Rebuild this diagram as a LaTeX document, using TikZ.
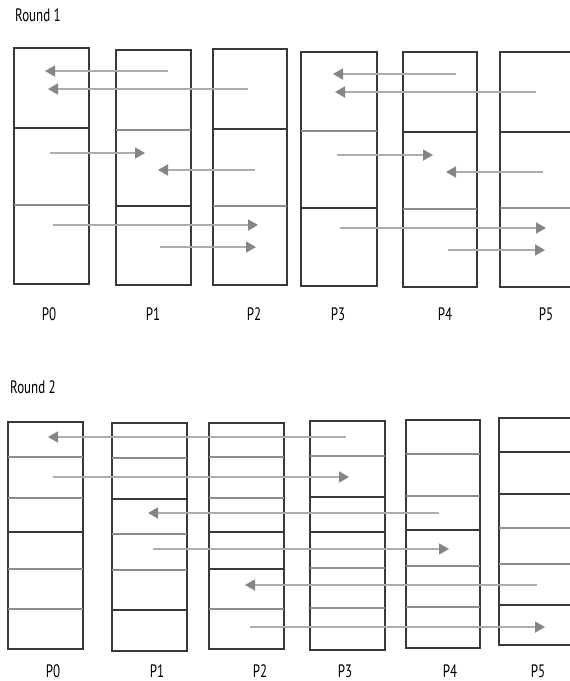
\documentclass[tikz,border=0pt]{standalone}
\usepackage{fontspec}
\setmainfont{PT Sans}[FakeStretch=0.72]
\usetikzlibrary{arrows.meta}
\definecolor{boxline}{gray}{0.22}
\definecolor{divgray}{gray}{0.55}
\definecolor{msgline}{gray}{0.68}
\definecolor{msgtip}{gray}{0.52}
\tikzset{
  boxframe/.style={draw=boxline, line width=1.2pt},
  divdark/.style={draw=boxline, line width=1.2pt},
  divlight/.style={draw=divgray, line width=1.6pt},
  msg/.style={draw=msgline, line width=1.8pt, -{Triangle[length=10pt,width=11pt,color=msgtip]}},
  plabel/.style={font=\fontsize{18}{18}\selectfont, inner sep=0pt},
  rlabel/.style={font=\fontsize{18}{18}\selectfont, inner sep=0pt, anchor=west},
}
\begin{document}
\begin{tikzpicture}[x=1pt,y=-1pt]
\useasboundingbox (0,0) rectangle (570,681);
\clip (0,0) rectangle (570,681);

% ---------------- Round 1 ----------------
\node[rlabel] (round1) at (15,15) {Round 1};

% P0
\draw[boxframe] (14,48) rectangle (89,284);
\draw[divdark] (14,128) -- (89,128);
\draw[divlight] (14,205) -- (89,205);
% P1
\draw[boxframe] (116,50) rectangle (191,285);
\draw[divlight] (116,130) -- (191,130);
\draw[divdark] (116,206) -- (191,206);
% P2
\draw[boxframe] (213,49) rectangle (287,285);
\draw[divdark] (213,129) -- (287,129);
\draw[divlight] (213,206) -- (287,206);
% P3
\draw[boxframe] (301,52) rectangle (377,286);
\draw[divlight] (301,131) -- (377,131);
\draw[divdark] (301,208) -- (377,208);
% P4
\draw[boxframe] (403,52) rectangle (477,287);
\draw[divdark] (403,132) -- (477,132);
\draw[divlight] (403,209) -- (477,209);
% P5
\draw[boxframe] (500,52) rectangle (590,287);
\draw[divdark] (500,132) -- (590,132);
\draw[divlight] (500,208) -- (590,208);

\node[plabel] (r1p0) at (49,314) {P0};
\node[plabel] (r1p1) at (153,314) {P1};
\node[plabel] (r1p2) at (254,314) {P2};
\node[plabel] (r1p3) at (338,314) {P3};
\node[plabel] (r1p4) at (445,314) {P4};
\node[plabel] (r1p5) at (546,314) {P5};

% Round 1 messages
\coordinate (a1s) at (168,71);  \coordinate (a1e) at (45,71);
\coordinate (a2s) at (248,89);  \coordinate (a2e) at (48,89);
\coordinate (a3s) at (50,153);  \coordinate (a3e) at (145,153);
\coordinate (a4s) at (255,170); \coordinate (a4e) at (158,170);
\coordinate (a5s) at (53,225);  \coordinate (a5e) at (258,225);
\coordinate (a6s) at (160,247); \coordinate (a6e) at (256,247);
\coordinate (b1s) at (456,74);  \coordinate (b1e) at (333,74);
\coordinate (b2s) at (536,92);  \coordinate (b2e) at (335,92);
\coordinate (b3s) at (337,155); \coordinate (b3e) at (433,155);
\coordinate (b4s) at (543,172); \coordinate (b4e) at (446,172);
\coordinate (b5s) at (340,228); \coordinate (b5e) at (546,228);
\coordinate (b6s) at (448,250); \coordinate (b6e) at (545,250);
\foreach \p in {a1,a2,a3,a4,a5,a6,b1,b2,b3,b4,b5,b6}
  \draw[msg] (\p s) -- (\p e);

% ---------------- Round 2 ----------------
\node[rlabel] (round2) at (10,387) {Round 2};

% P0
\draw[boxframe] (8,422) rectangle (83,649);
\draw[divlight] (8,457) -- (83,457);
\draw[divlight] (8,498) -- (83,498);
\draw[divdark] (8,532) -- (83,532);
\draw[divlight] (8,569) -- (83,569);
\draw[divlight] (8,609) -- (83,609);
% P1
\draw[boxframe] (112,423) rectangle (187,651);
\draw[divlight] (112,458) -- (187,458);
\draw[divdark] (112,499) -- (187,499);
\draw[divlight] (112,534) -- (187,534);
\draw[divlight] (112,570) -- (187,570);
\draw[divdark] (112,610) -- (187,610);
% P2
\draw[boxframe] (209,423) rectangle (284,649);
\draw[divlight] (209,457) -- (284,457);
\draw[divlight] (209,498) -- (284,498);
\draw[divdark] (209,532) -- (284,532);
\draw[divdark] (209,569) -- (284,569);
\draw[divlight] (209,609) -- (284,609);
% P3
\draw[boxframe] (310,421) rectangle (385,650);
\draw[divlight] (310,456) -- (385,456);
\draw[divdark] (310,497) -- (385,497);
\draw[divdark] (310,532) -- (385,532);
\draw[divlight] (310,568) -- (385,568);
\draw[divlight] (310,608) -- (385,608);
% P4
\draw[boxframe] (406,420) rectangle (480,648);
\draw[divlight] (406,454) -- (480,454);
\draw[divlight] (406,496) -- (480,496);
\draw[divdark] (406,530) -- (480,530);
\draw[divlight] (406,566) -- (480,566);
\draw[divlight] (406,607) -- (480,607);
% P5
\draw[boxframe] (499,418) rectangle (590,645);
\draw[divdark] (499,452) -- (590,452);
\draw[divdark] (499,494) -- (590,494);
\draw[divlight] (499,528) -- (590,528);
\draw[divlight] (499,564) -- (590,564);
\draw[divdark] (499,605) -- (590,605);

\node[plabel] (r2p0) at (53,671) {P0};
\node[plabel] (r2p1) at (157,671) {P1};
\node[plabel] (r2p2) at (260,671) {P2};
\node[plabel] (r2p3) at (345,671) {P3};
\node[plabel] (r2p4) at (450,671) {P4};
\node[plabel] (r2p5) at (538,671) {P5};

% Round 2 messages
\coordinate (c1s) at (346,437); \coordinate (c1e) at (48,437);
\coordinate (c2s) at (53,477);  \coordinate (c2e) at (349,477);
\coordinate (c3s) at (439,513); \coordinate (c3e) at (148,513);
\coordinate (c4s) at (153,549); \coordinate (c4e) at (449,549);
\coordinate (c5s) at (537,585); \coordinate (c5e) at (245,585);
\coordinate (c6s) at (250,627); \coordinate (c6e) at (545,627);
\foreach \p in {c1,c2,c3,c4,c5,c6}
  \draw[msg] (\p s) -- (\p e);
\end{tikzpicture}
\end{document}
